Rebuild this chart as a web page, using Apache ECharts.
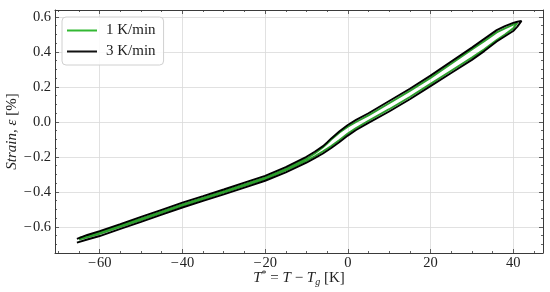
<!DOCTYPE html>
<html><head><meta charset="utf-8">
<script src="https://cdn.jsdelivr.net/npm/echarts@6/dist/echarts.min.js"></script>
<style>html,body{margin:0;padding:0;background:#fff}#c{width:550px;height:292px}</style>
</head><body><div id="c"></div>
<script>
const seriesNames = ['1 K/min', '3 K/min'];
const X_TICKS = [-60, -40, -20, 0, 20, 40];
const X_MINOR = [-70, -65, -55, -50, -45, -35, -30, -25, -15, -10, -5, 5, 10, 15, 25, 30, 35, 45];
const Y_TICKS = [-0.6, -0.4, -0.2, 0.0, 0.2, 0.4, 0.6];
const Y_MINOR = [-0.7, -0.65, -0.55, -0.5, -0.45, -0.35, -0.3, -0.25, -0.15, -0.1, -0.05, 0.05, 0.1, 0.15, 0.25, 0.3, 0.35, 0.45, 0.5, 0.55];
const XMIN = -70.8, XMAX = 47.2, YMIN = -0.749, YMAX = 0.64;

// 1 K/min loop: heating branch (T, strain) then cooling branch
const green_heat_T = [-65, -63, -60, -55, -50, -45, -40, -35, -30, -25, -20, -15, -10, -8, -6, -4, -2, 0, 2, 5, 10, 15, 20, 25, 30, 33, 36, 38, 40, 41];
const green_heat_S = [-0.672, -0.66, -0.64, -0.6, -0.561, -0.52, -0.479, -0.442, -0.404, -0.365, -0.326, -0.277, -0.222, -0.196, -0.168, -0.138, -0.103, -0.066, -0.035, 0.007, 0.073, 0.143, 0.218, 0.293, 0.368, 0.415, 0.468, 0.5, 0.535, 0.567];
const green_cool_T = [41, 40, 38, 36, 33, 30, 25, 20, 15, 10, 5, 2, 0, -2, -4, -5, -6, -8, -10, -15, -20, -25, -30, -35, -40, -45, -50, -55, -60, -63, -65];
const green_cool_S = [0.567, 0.556, 0.535, 0.512, 0.462, 0.415, 0.333, 0.252, 0.178, 0.107, 0.038, 0.0, -0.027, -0.06, -0.1, -0.123, -0.145, -0.18, -0.21, -0.268, -0.318, -0.357, -0.396, -0.434, -0.471, -0.512, -0.553, -0.59, -0.63, -0.652, -0.663];

// 3 K/min loop
const black_heat_T = [-65.5, -63, -60, -55, -50, -45, -40, -35, -30, -25, -20, -15, -10, -8, -6, -4, -2, 0, 2, 5, 10, 15, 20, 25, 30, 33, 36, 38, 40, 41, 42];
const black_heat_S = [-0.69, -0.672, -0.652, -0.611, -0.571, -0.53, -0.489, -0.451, -0.414, -0.375, -0.336, -0.288, -0.233, -0.207, -0.18, -0.149, -0.115, -0.078, -0.046, -0.005, 0.06, 0.13, 0.205, 0.28, 0.355, 0.405, 0.46, 0.49, 0.52, 0.545, 0.578];
const black_cool_T = [42, 41, 40, 38, 36, 33, 30, 25, 20, 15, 10, 5, 2, 0, -2, -4, -5, -6, -8, -10, -15, -20, -25, -30, -35, -40, -45, -50, -55, -60, -63, -65.5];
const black_cool_S = [0.578, 0.573, 0.566, 0.548, 0.525, 0.475, 0.425, 0.345, 0.265, 0.19, 0.12, 0.05, 0.012, -0.017, -0.053, -0.094, -0.117, -0.138, -0.17, -0.199, -0.258, -0.308, -0.347, -0.386, -0.424, -0.461, -0.502, -0.543, -0.584, -0.624, -0.646, -0.668];

function pairs(t, s) { return t.map((v, i) => [v, s[i]]); }
const greenData = pairs(green_heat_T, green_heat_S).concat(pairs(green_cool_T, green_cool_S));
const blackData = pairs(black_heat_T, black_heat_S).concat(pairs(black_cool_T, black_cool_S));

const FONT = 'Liberation Serif';
const NEG = '\u2212\u200a';
const fmtX = v => (v < 0 ? NEG : '') + Math.abs(Math.round(v));
const fmtY = v => (v < -1e-9 ? NEG : '') + Math.abs(v).toFixed(1);
const FRAME = '#3a3a3a';

function xAx(pos, major) {
  return {
    type: 'value', position: pos, min: XMIN, max: XMAX, splitNumber: 5,
    axisLine: { show: major, onZero: false, lineStyle: { color: FRAME, width: 1 } },
    axisTick: { show: true, inside: true, length: major ? 4 : 2, customValues: major ? X_TICKS : X_MINOR, lineStyle: { color: FRAME, width: 0.8 } },
    axisLabel: { show: major && pos === 'bottom', customValues: X_TICKS, formatter: fmtX, fontFamily: FONT, fontSize: 14.5, color: '#222', margin: 3 },
    splitLine: { show: major && pos === 'bottom', lineStyle: { color: '#d9d9d9', width: 0.8 } }
  };
}
function yAx(pos, major) {
  return {
    type: 'value', position: pos, min: YMIN, max: YMAX, splitNumber: 7,
    axisLine: { show: major, onZero: false, lineStyle: { color: FRAME, width: 1 } },
    axisTick: { show: true, inside: true, length: major ? 4 : 2, customValues: major ? Y_TICKS : Y_MINOR, lineStyle: { color: FRAME, width: 0.8 } },
    axisLabel: { show: major && pos === 'left', customValues: Y_TICKS, formatter: fmtY, fontFamily: FONT, fontSize: 14.5, color: '#222', margin: 4 },
    splitLine: { show: major && pos === 'left', lineStyle: { color: '#d9d9d9', width: 0.8 } }
  };
}

const xAxes = [xAx('bottom', true), xAx('bottom', false), xAx('top', true), xAx('top', false)];
xAxes[0].name = '{i|T}{sup|*} = {i|T} \u2212 {i|T}{sub|g} [K]';
xAxes[0].nameLocation = 'middle';
xAxes[0].nameGap = 16;
xAxes[0].nameMoveOverlap = false;
xAxes[0].nameTextStyle = {
  fontFamily: FONT, fontSize: 15, color: '#222', lineHeight: 18,
  rich: {
    i: { fontFamily: FONT, fontStyle: 'italic', fontSize: 15, lineHeight: 18 },
    sup: { fontFamily: FONT, fontSize: 10, lineHeight: 10, verticalAlign: 'top' },
    sub: { fontFamily: FONT, fontStyle: 'italic', fontSize: 10, lineHeight: 12, verticalAlign: 'bottom' }
  }
};
const yAxes = [yAx('left', true), yAx('left', false), yAx('right', true), yAx('right', false)];
yAxes[0].name = '{i|Strain, \u03b5} [%]';
yAxes[0].nameLocation = 'middle';
yAxes[0].nameRotate = 90;
yAxes[0].nameGap = 35;
yAxes[0].nameMoveOverlap = false;
yAxes[0].nameTextStyle = {
  fontFamily: FONT, fontSize: 15, color: '#222',
  rich: { i: { fontFamily: FONT, fontStyle: 'italic', fontSize: 15 } }
};

const chart = echarts.init(document.getElementById('c'), null, { renderer: 'canvas' });
chart.setOption({
  animation: false,
  backgroundColor: '#fff',
  grid: { left: 55, right: 7, top: 10, bottom: 39, containLabel: false, outerBoundsMode: 'none' },
  xAxis: xAxes,
  yAxis: yAxes,
  legend: {
    orient: 'vertical', left: 62, top: 17,
    padding: [6, 8, 6, 5],
    backgroundColor: 'rgba(255,255,255,0.85)',
    borderColor: '#d0d0d0', borderWidth: 1, borderRadius: 4,
    itemWidth: 30, itemHeight: 2, itemGap: 6,
    icon: 'rect',
    textStyle: { fontFamily: FONT, fontSize: 15, color: '#222', lineHeight: 15, padding: [0, 0, 0, 4] },
    data: seriesNames
  },
  series: [
    { name: seriesNames[0], type: 'line', xAxisIndex: 0, yAxisIndex: 0, data: greenData, showSymbol: false, symbol: 'none',
      lineStyle: { color: '#2ca02c', width: 1.9 }, itemStyle: { color: '#33b833' }, z: 2 },
    { name: seriesNames[1], type: 'line', xAxisIndex: 0, yAxisIndex: 0, data: blackData, showSymbol: false, symbol: 'none',
      lineStyle: { color: '#000', width: 1.9 }, itemStyle: { color: '#111' }, z: 3 }
  ]
});
</script></body></html>
